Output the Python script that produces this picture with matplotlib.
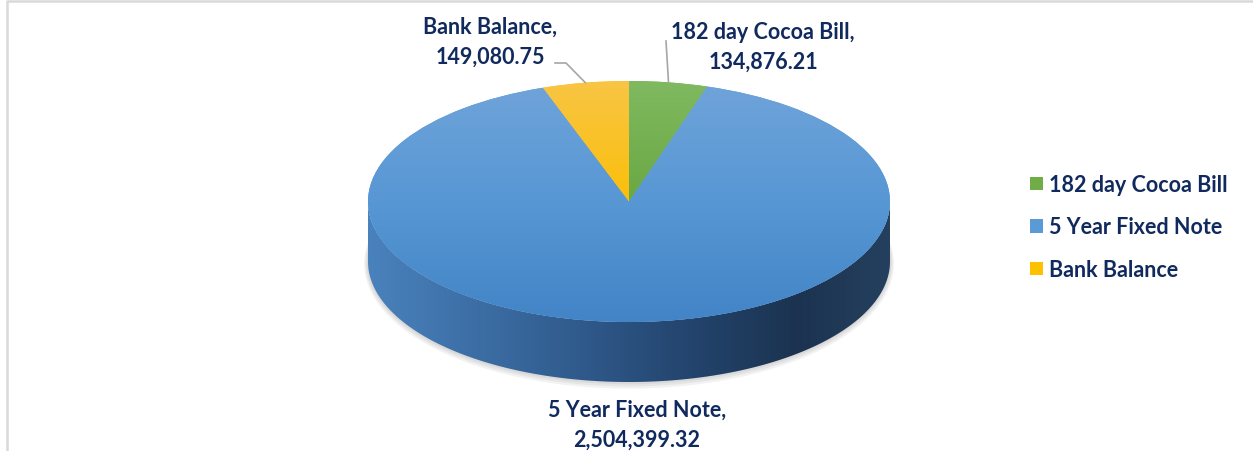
import numpy as np
import matplotlib.pyplot as plt
from matplotlib.colors import LinearSegmentedColormap
from matplotlib.patches import Polygon, Ellipse

# portfolio split
labels = ["182 day Cocoa Bill", "5 Year Fixed Note", "Bank Balance"]
values = [134876.21, 2504399.32, 149080.75]
value_text = ["134,876.21", "2,504,399.32", "149,080.75"]
colors = ["#70ad47", "#5b9bd5", "#ffc000"]

W, H = 1253, 452
cx, cy, rx, ry, depth = 629, 202.5, 261, 120.5, 60
txt_color = "#112a5e"
font = dict(family="Lato", weight="bold", size=15.5)


def px(x, y):
    # pixel position -> pie data coords (unit circle squashed into ellipse)
    return (x - cx) / rx, (cy - y) / ry


fig = plt.figure(figsize=(12.53, 4.52), dpi=100)
ax = fig.add_axes([0, 0, 1, 1])

wedges, _ = ax.pie(values, colors=colors, startangle=90, counterclock=False,
                   wedgeprops=dict(linewidth=0), frame=False)
ax.set_aspect("auto")
for w in wedges:
    w.set_zorder(3)

# top face gradients
top_cmaps = [
    ["#80b960", "#6aa843", "#5f9c38"],
    ["#70a4da", "#5797d4", "#4284c6"],
    ["#f8c544", "#fbbf0a", "#e9ad00"],
]
vgrad = np.linspace(0, 1, 256)[:, None]
for w, cl in zip(wedges, top_cmaps):
    im = ax.imshow(vgrad, extent=[-1, 1, -1, 1], origin="upper", aspect="auto",
                   cmap=LinearSegmentedColormap.from_list("t", cl), zorder=3.5)
    im.set_clip_path(w)

# side wall (front half of the cylinder)
d = depth / ry
t = np.linspace(np.pi, 2 * np.pi, 200)
xs, ys = np.cos(t), np.sin(t)
side = Polygon(np.r_[np.c_[xs, ys], np.c_[xs[::-1], ys[::-1] - d]],
               closed=True, facecolor="none", edgecolor="none")
ax.add_patch(side)
side_cmap = LinearSegmentedColormap.from_list(
    "side", [(0, "#4a82bd"), (0.3, "#36659a"), (0.6, "#244670"),
             (0.82, "#1b3350"), (1.0, "#25405f")])
im = ax.imshow(np.linspace(0, 1, 256)[None, :], extent=[-1, 1, -1 - d, 0],
               aspect="auto", cmap=side_cmap, zorder=2)
im.set_clip_path(side)

# soft shadow under the pie
for i in range(4):
    ax.add_patch(Ellipse((0, -d - 0.006 * i), 2 + 0.01 * i, 2 + 0.025 * i,
                         facecolor="#000000", alpha=0.05, linewidth=0, zorder=1))

ax.set_xlim(px(0, 0)[0], px(W, 0)[0])
ax.set_ylim(px(0, H)[1], px(0, 0)[1])
ax.axis("off")

# data labels
lab_pos = [(763, 47), (637, 425), (490, 42)]
for lab, vt, (lx, ly) in zip(labels, value_text, lab_pos):
    ax.text(*px(lx, ly), lab + ",\n" + vt, ha="center", va="center",
            linespacing=1.52, color=txt_color, zorder=5, **font)

# leader lines to the small slices
mid = [np.deg2rad((w.theta1 + w.theta2) / 2) for w in wedges]
ex, ey = np.cos(mid[0]), np.sin(mid[0])
ax.plot([px(666, 42)[0], ex], [px(666, 42)[1], ey], color="#a6a6a6", lw=1.2, zorder=5)
ex, ey = np.cos(mid[2]), np.sin(mid[2])
ax.plot([px(555, 64)[0], px(566, 64)[0], ex], [px(555, 64)[1], px(566, 64)[1], ey],
        color="#a6a6a6", lw=1.2, zorder=5)

# legend
leg = ax.legend(wedges, labels, loc="center left", bbox_to_anchor=(1011 / W, 1 - 228 / H),
                bbox_transform=fig.transFigure, frameon=False, handlelength=0.6,
                handleheight=0.6, handletextpad=0.25, labelspacing=1.0,
                prop=font)
for tx in leg.get_texts():
    tx.set_color(txt_color)

# chart border (left and top edges)
ax.plot([7 / W, 7 / W, 1], [0, 1 - 2 / H, 1 - 2 / H], transform=ax.transAxes,
        color="#d9d9d9", lw=1.8, clip_on=False, zorder=6)

fig.savefig("out.png", dpi=100)
